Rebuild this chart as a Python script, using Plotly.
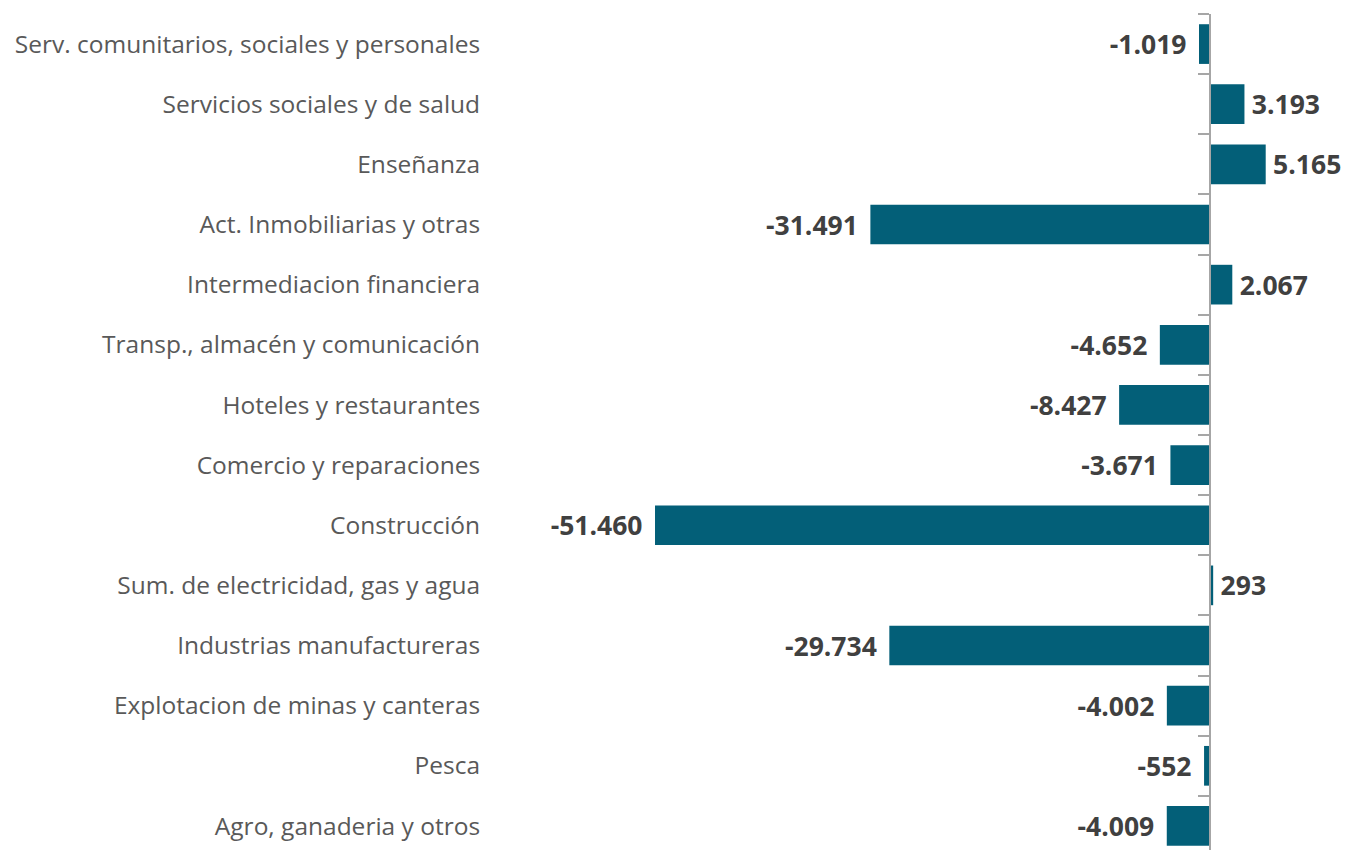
import plotly.graph_objects as go

categories = [
    "Serv. comunitarios, sociales y personales",
    "Servicios sociales y de salud",
    "Enseñanza",
    "Act. Inmobiliarias y otras",
    "Intermediacion financiera",
    "Transp., almacén y comunicación",
    "Hoteles y restaurantes",
    "Comercio y reparaciones",
    "Construcción",
    "Sum. de electricidad, gas y agua",
    "Industrias manufactureras",
    "Explotacion de minas y canteras",
    "Pesca",
    "Agro, ganaderia y otros",
]
values = [-1019, 3193, 5165, -31491, 2067, -4652, -8427, -3671, -51460, 293, -29734, -4002, -552, -4009]

# page has an 8px body margin: figure placed at (8, 8)
W, H = 1342, 842
ml, mr, mt, mb = 482, 0, 6, 0
xmin, xmax = -66760, 12980
yr = [13.4, -0.5]

gap_neg = "\u00a0\u200a"
gap_pos = "\u2009"
templates = [("%{x:,}" + gap_neg) if v < 0 else (gap_pos + "%{x:,}") for v in values]

fig = go.Figure()
fig.add_trace(go.Bar(
    y=categories, x=values, orientation="h",
    marker=dict(color="#035f78", line=dict(width=0)),
    width=0.66,
    texttemplate=templates, textposition="outside", constraintext="none",
    textfont=dict(family="Open Sans", size=26.5, color="#404040", weight="bold"),
    cliponaxis=False,
    showlegend=False, hoverinfo="skip",
))
# invisible helper so the zero-position axis is drawn
fig.add_trace(go.Scatter(x=[0], y=[0], yaxis="y2", mode="markers",
                         marker=dict(opacity=0), showlegend=False, hoverinfo="skip"))

pos = (0 - xmin) / (xmax - xmin)
fig.update_layout(
    width=W, height=H,
    margin=dict(l=ml, r=mr, t=mt, b=mb, pad=0),
    paper_bgcolor="white", plot_bgcolor="white",
    separators=",.",
    font=dict(family="Open Sans", color="#595959"),
    xaxis=dict(range=[xmin, xmax], visible=False, showgrid=False, zeroline=False),
    yaxis=dict(type="category", range=yr, showline=False, showgrid=False, zeroline=False,
               ticks="outside", ticklen=4, tickcolor="rgba(0,0,0,0)",
               tickfont=dict(family="Open Sans", size=24.5, color="#595959")),
    yaxis2=dict(overlaying="y", anchor="free", position=pos, type="linear", range=yr,
                showline=True, linecolor="#a6a6a6", linewidth=2,
                ticks="outside", ticklen=11, tickwidth=2, tickcolor="#a6a6a6",
                tickmode="array", tickvals=[i - 0.5 for i in range(len(categories) + 1)],
                showticklabels=False, showgrid=False, zeroline=False),
)

fig.write_html("out.html")
